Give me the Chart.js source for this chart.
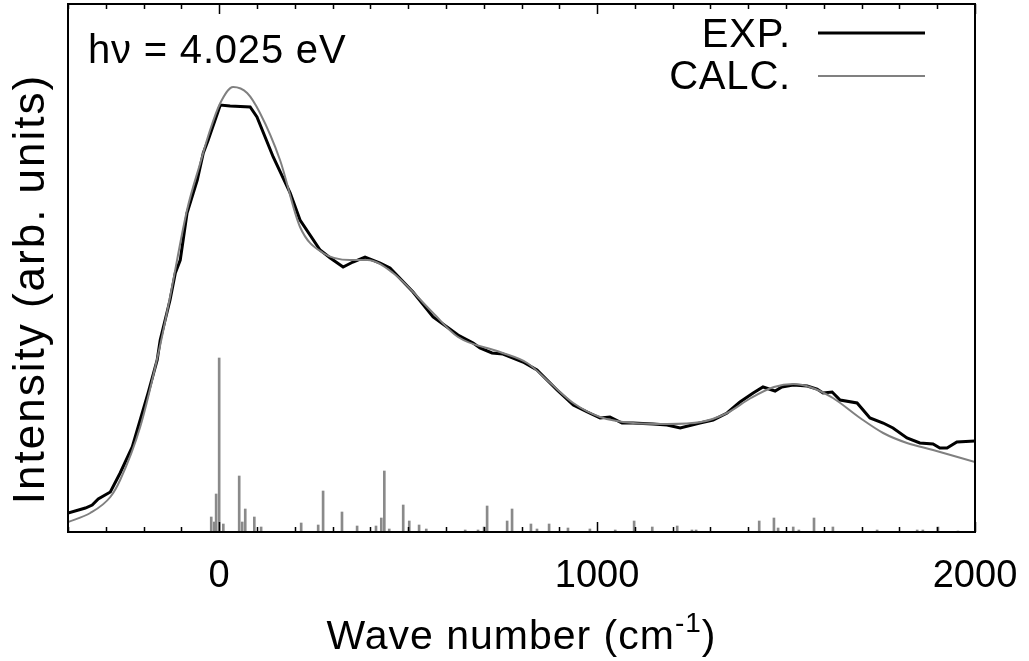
<!DOCTYPE html>
<html>
<head>
<meta charset="utf-8">
<script src="https://cdn.jsdelivr.net/npm/chart.js@4/dist/chart.umd.min.js"></script>
<style>
  html, body { margin: 0; padding: 0; background: #fff; }
  #wrap { width: 1029px; height: 661px; position: relative; }
</style>
</head>
<body>
<div id="wrap"><canvas id="c" width="1029" height="661"></canvas></div>
<script>
// ---- data (intensity in arbitrary units) ----
const expWave = [-400,-354,-336,-320,-288,-262,-230,-209,-188,-164,-156,-130,-116,-103,-85,-58,-42,-29,3,29,82,100,143,188,214,267,294,328,354,386,426,452,513,566,603,632,672,690,722,751,804,841,894,937,974,1008,1034,1066,1095,1148,1185,1220,1272,1307,1344,1378,1413,1439,1471,1489,1519,1556,1582,1598,1622,1643,1688,1722,1757,1783,1820,1854,1889,1907,1926,1952,2000];
const expInt  = [19,24,27,33,40,59,85,112,139,172,192,232,259,272,319,352,379,392,427,426,425,415,375,339,312,282,274,265,270,275,269,264,240,215,205,197,189,184,179,178,170,162,142,127,120,114,115,109,109,108,107,104,109,112,119,130,139,145,141,145,147,146,143,139,140,132,129,114,109,104,94,89,88,84,84,90,91];

const calcWave = [-400,-341,-288,-262,-209,-156,-130,-85,-50,-24,3,37,74,108,161,214,275,347,392,460,566,632,743,815,876,937,1008,1095,1185,1275,1344,1407,1468,1519,1563,1624,1696,1757,1820,1889,2000];
const calcInt  = [10,19,35,52,105,187,235,322,369,402,429,445,439,419,372,305,279,272,272,259,219,195,180,169,149,129,115,109,108,110,119,134,145,148,145,134,114,99,89,82,70];

const stickWave = [-21,-13,-8,0,11,53,61,69,93,111,217,262,275,325,365,415,429,437,450,487,503,529,548,651,685,701,709,762,775,825,841,873,923,981,1048,1098,1146,1212,1251,1262,1429,1468,1479,1519,1534,1574,1624,1741,1847,1862,1902,1955];
const stickInt  = [15,10,38,174,8,56,10,23,15,5,9,7,41,20,6,6,14,61,3,27,11,7,3,2,2,5,26,11,23,8,3,8,4,3,2,11,5,6,2,2,11,14,4,5,2,14,5,2,2,2,5,1];

const xTickValues = [0, 1000, 2000];
const labelText = 'hν = 4.025 eV';
const legendLabels = ['EXP.', 'CALC.'];

const FONT = '"Liberation Sans", Arial, Helvetica, sans-serif';
const toXY = (xs, ys) => xs.map((x, i) => ({ x: x, y: ys[i] }));

function setSpacing(ctx, s) { if ('letterSpacing' in ctx) ctx.letterSpacing = s; }

const framePlugin = {
  id: 'frame',
  afterDraw(chart) {
    const ctx = chart.ctx;
    const a = chart.chartArea;
    const xs = chart.scales.x;
    ctx.save();
    // inward ticks top & bottom
    ctx.strokeStyle = '#000';
    ctx.lineWidth = 1.5;
    for (let v = -400; v <= 2000; v += 100) {
      const px = Math.round(xs.getPixelForValue(v)) + 0.5;
      const len = (v % 1000 === 0) ? 10 : 5;
      ctx.beginPath();
      ctx.moveTo(px, a.bottom); ctx.lineTo(px, a.bottom - len);
      ctx.moveTo(px, a.top); ctx.lineTo(px, a.top + len);
      ctx.stroke();
    }
    // frame
    ctx.lineWidth = 2;
    ctx.strokeRect(a.left, a.top, a.right - a.left, a.bottom - a.top);

    ctx.fillStyle = '#000';
    ctx.font = '40px ' + FONT;
    setSpacing(ctx, '0.8px');
    // annotation
    ctx.textAlign = 'left';
    ctx.textBaseline = 'alphabetic';
    ctx.fillText(labelText, 88, 63);
    // legend
    ctx.textAlign = 'right';
    ctx.fillText(legendLabels[0], 791, 47);
    ctx.fillText(legendLabels[1], 791, 89);
    ctx.lineWidth = 3;
    ctx.strokeStyle = '#000';
    ctx.beginPath(); ctx.moveTo(818, 33); ctx.lineTo(925, 33); ctx.stroke();
    ctx.lineWidth = 2;
    ctx.strokeStyle = '#808080';
    ctx.beginPath(); ctx.moveTo(818, 76); ctx.lineTo(925, 76); ctx.stroke();

    // x title with superscript
    const cx = (a.left + a.right) / 2;
    ctx.textAlign = 'left';
    const main = 'Wave number (cm';
    const sup = '-1';
    const close = ')';
    setSpacing(ctx, '1px');
    ctx.font = '41px ' + FONT;
    const w1 = ctx.measureText(main).width;
    const w3 = ctx.measureText(close).width;
    ctx.font = '28px ' + FONT;
    const w2 = ctx.measureText(sup).width;
    const total = w1 + w2 + w3;
    let x0 = cx - total / 2;
    ctx.font = '41px ' + FONT;
    ctx.fillText(main, x0, 649);
    ctx.font = '28px ' + FONT;
    ctx.fillText(sup, x0 + w1, 632);
    ctx.font = '41px ' + FONT;
    ctx.fillText(close, x0 + w1 + w2, 649);

    // y title
    ctx.translate(44, 289);
    ctx.rotate(-Math.PI / 2);
    ctx.textAlign = 'center';
    ctx.font = '44px ' + FONT;
    setSpacing(ctx, '2px');
    ctx.fillText('Intensity (arb. units)', 0, 0);
    ctx.restore();
  }
};

new Chart(document.getElementById('c'), {
  type: 'line',
  data: {
    datasets: [
      {
        label: legendLabels[1],
        data: toXY(calcWave, calcInt),
        borderColor: '#808080',
        borderWidth: 2,
        pointRadius: 0,
        tension: 0.4,
        cubicInterpolationMode: 'monotone',
        fill: false,
        order: 1
      },
      {
        label: legendLabels[0],
        data: toXY(expWave, expInt),
        borderColor: '#000000',
        borderWidth: 3,
        pointRadius: 0,
        tension: 0,
        fill: false,
        order: 2
      },
      {
        type: 'bar',
        label: 'sticks',
        data: toXY(stickWave, stickInt),
        backgroundColor: '#8a8a8a',
        borderWidth: 0,
        barThickness: 2,
        grouped: false,
        order: 3
      }
    ]
  },
  options: {
    responsive: false,
    animation: false,
    devicePixelRatio: 1,
    layout: { padding: { left: 68, right: 54, top: 4, bottom: 0 } },
    plugins: { legend: { display: false }, tooltip: { enabled: false }, title: { display: false } },
    scales: {
      x: {
        type: 'linear',
        min: -400,
        max: 2000,
        offset: false,
        grid: { display: false, drawTicks: false },
        border: { display: false },
        ticks: {
          stepSize: 100,
          autoSkip: false,
          maxRotation: 0,
          padding: 22,
          color: '#000',
          font: { family: FONT, size: 38 },
          callback: (v) => xTickValues.includes(v) ? String(v) : ''
        },
        afterFit: (s) => { s.height = 129; s.paddingLeft = 0; s.paddingRight = 0; }
      },
      y: {
        display: false,
        min: 0,
        max: 528
      }
    }
  },
  plugins: [framePlugin]
});
</script>
</body>
</html>
